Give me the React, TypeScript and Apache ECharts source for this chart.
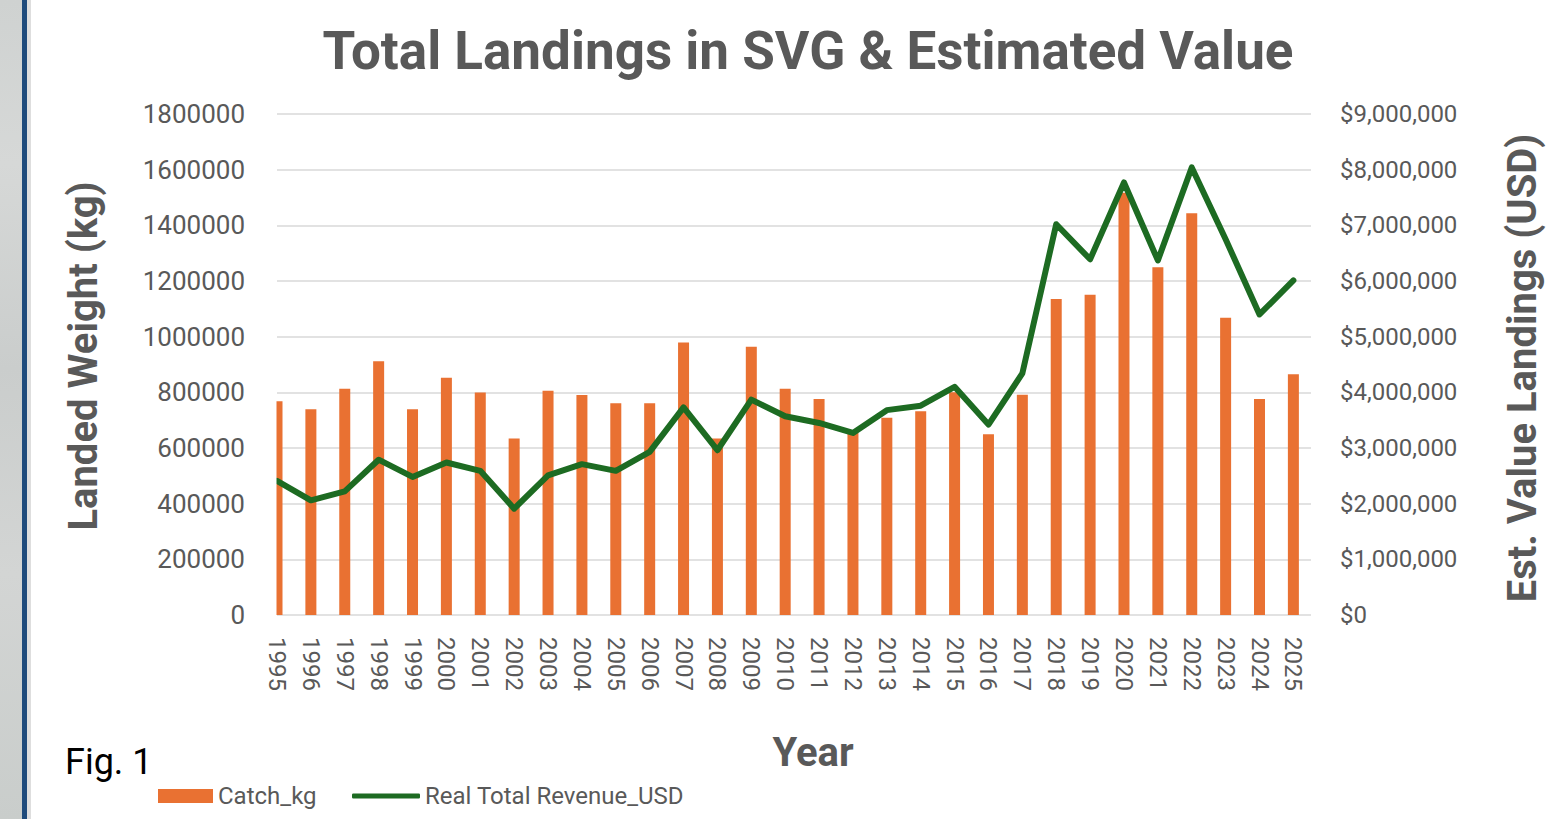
import React, { useEffect, useRef } from "react";
import * as echarts from "echarts";

const years = [
  1995, 1996, 1997, 1998, 1999, 2000, 2001, 2002, 2003, 2004, 2005, 2006, 2007, 2008, 2009, 2010,
  2011, 2012, 2013, 2014, 2015, 2016, 2017, 2018, 2019, 2020, 2021, 2022, 2023, 2024, 2025,
];

const catchKg = [
  768000, 739000, 813000, 912000, 739000, 852000, 799000, 634000, 806000, 790000, 761000, 761000,
  979000, 634000, 964000, 813000, 776000, 655000, 709000, 732000, 800000, 649000, 791000, 1135000,
  1151000, 1517000, 1249000, 1443000, 1068000, 776000, 865000,
];

const revenueUsd = [
  2410000, 2060000, 2220000, 2790000, 2480000, 2740000, 2590000, 1910000, 2510000, 2710000, 2590000,
  2930000, 3730000, 2960000, 3870000, 3570000, 3450000, 3270000, 3680000, 3760000, 4100000, 3420000,
  4340000, 7020000, 6390000, 7770000, 6370000, 8040000, 6750000, 5400000, 6010000,
];

const leftTicks = { min: 0, max: 1800000, interval: 200000 };
const rightTicks = { min: 0, max: 9000000, interval: 1000000 };

const GRAY = "#595959";
const FONT = "Roboto";
const ORANGE = "#E97132";
const GREEN = "#1D6B22";

export default function App() {
  const ref = useRef<HTMLDivElement>(null);

  useEffect(() => {
    if (!ref.current) return;
    const chart = echarts.init(ref.current, null, { renderer: "svg" });

    const option: any = {
      animation: false,
      backgroundColor: "#ffffff",
      title: {
        text: "Total Landings in SVG & Estimated Value",
        left: 803,
        top: 19,
        textAlign: "center",
        textStyle: { fontFamily: FONT, fontSize: 53, fontWeight: "bold", color: GRAY },
      },
      legend: [
        {
          data: [{ name: "Catch_kg", icon: "rect" }],
          left: 158,
          top: 784,
          padding: 0,
          itemWidth: 55,
          itemHeight: 14,
          textStyle: { fontFamily: FONT, fontSize: 24, color: GRAY },
        },
        {
          data: [{ name: "Real Total Revenue_USD", icon: "roundRect" }],
          left: 352,
          top: 784,
          padding: 0,
          itemWidth: 68,
          itemHeight: 5,
          itemStyle: { color: GREEN },
          textStyle: { fontFamily: FONT, fontSize: 24, color: GRAY },
        },
      ],
      grid: { left: 277, right: 242, top: 114, bottom: 204 },
      xAxis: {
        type: "value",
        min: years[0],
        max: 2025.52,
        interval: 1,
        axisLine: { show: false },
        axisTick: { show: false },
        splitLine: { show: false },
        axisLabel: {
          rotate: -90,
          margin: 22,
          fontSize: 24,
          fontFamily: FONT,
          color: GRAY,
          showMaxLabel: false,
          formatter: (v: number) => (Number.isInteger(v) ? String(v) : ""),
        },
      },
      yAxis: [
        {
          type: "value",
          position: "left",
          ...leftTicks,
          axisLine: { show: false },
          axisTick: { show: false },
          splitLine: { lineStyle: { color: "#D9D9D9", width: 1.5 } },
          axisLabel: {
            margin: 32,
            fontSize: 26,
            fontFamily: FONT,
            color: GRAY,
            formatter: (v: number) => String(v),
          },
        },
        {
          type: "value",
          position: "right",
          ...rightTicks,
          axisLine: { show: false },
          axisTick: { show: false },
          splitLine: { show: false },
          axisLabel: {
            margin: 29,
            fontSize: 24,
            fontFamily: FONT,
            color: GRAY,
            formatter: (v: number) => "$" + v.toLocaleString("en-US"),
          },
        },
      ],
      series: [
        {
          name: "Catch_kg",
          type: "bar",
          yAxisIndex: 0,
          barWidth: 11,
          itemStyle: { color: ORANGE },
          data: years.map((y, i) => [y, catchKg[i]]),
        },
        {
          name: "Real Total Revenue_USD",
          type: "line",
          yAxisIndex: 1,
          symbol: "none",
          showSymbol: false,
          itemStyle: { color: GREEN },
          lineStyle: { color: GREEN, width: 6, cap: "round", join: "round" },
          z: 3,
          data: years.map((y, i) => [y, revenueUsd[i]]),
        },
      ],
      graphic: [
        {
          type: "rect",
          z: 10,
          shape: { x: 258, y: 100, width: 18.5, height: 516 },
          style: { fill: "#ffffff" },
        },
        {
          type: "rect",
          shape: { x: 0, y: 0, width: 22, height: 819 },
          style: {
            fill: new echarts.graphic.LinearGradient(0, 0, 0, 1, [
              { offset: 0, color: "#CFD2D1" },
              { offset: 0.2, color: "#D6D8D7" },
              { offset: 0.45, color: "#CACDCC" },
              { offset: 0.7, color: "#D3D5D4" },
              { offset: 1, color: "#C9CDCB" },
            ]),
          },
        },
        { type: "rect", shape: { x: 22, y: 0, width: 5, height: 819 }, style: { fill: "#1F4B7C" } },
        { type: "rect", shape: { x: 27, y: 0, width: 4, height: 819 }, style: { fill: "#DEDEDE" } },
        {
          type: "text",
          x: 83,
          y: 356,
          rotation: Math.PI / 2,
          style: {
            text: "Landed Weight (kg)",
            fontFamily: FONT,
            fontSize: 40,
            fontWeight: "bold",
            fill: GRAY,
            textAlign: "center",
            textVerticalAlign: "middle",
          },
        },
        {
          type: "text",
          x: 1522,
          y: 368,
          rotation: Math.PI / 2,
          style: {
            text: "Est. Value Landings (USD)",
            fontFamily: FONT,
            fontSize: 40,
            fontWeight: "bold",
            fill: GRAY,
            textAlign: "center",
            textVerticalAlign: "middle",
          },
        },
        {
          type: "text",
          x: 813,
          y: 752,
          style: {
            text: "Year",
            fontFamily: FONT,
            fontSize: 40,
            fontWeight: "bold",
            fill: GRAY,
            textAlign: "center",
            textVerticalAlign: "middle",
          },
        },
        {
          type: "text",
          x: 65,
          y: 762,
          style: {
            text: "Fig. 1",
            fontFamily: FONT,
            fontSize: 36,
            fill: "#000000",
            textAlign: "left",
            textVerticalAlign: "middle",
          },
        },
      ],
    };

    chart.setOption(option);
    return () => chart.dispose();
  }, []);

  return (
    <div
      ref={ref}
      style={{ position: "fixed", left: 0, top: 0, width: 1553, height: 819 }}
    />
  );
}
